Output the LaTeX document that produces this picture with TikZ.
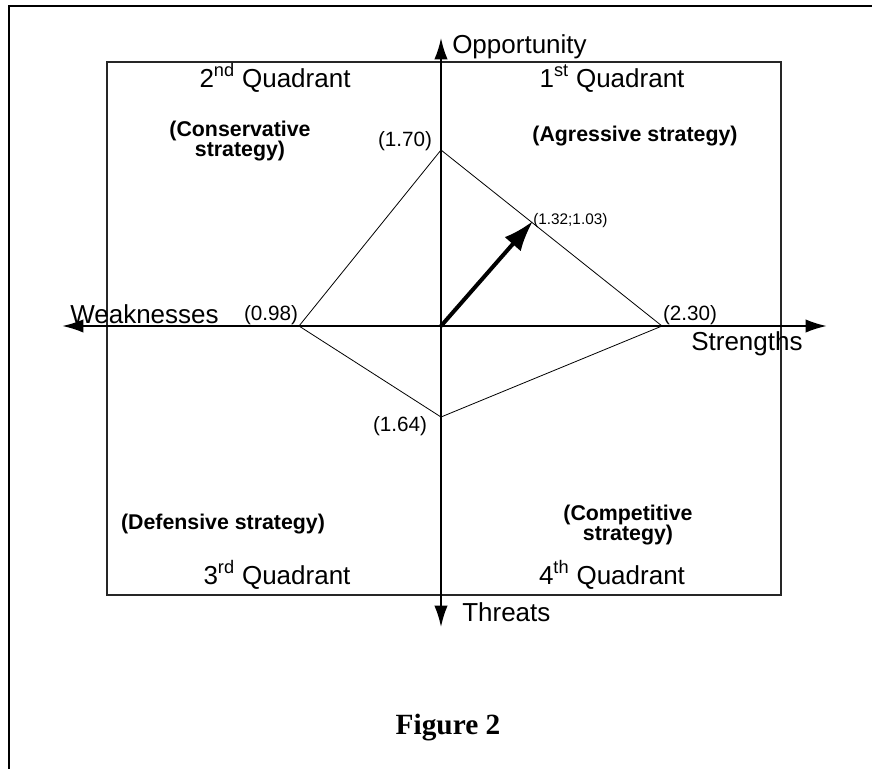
\documentclass[tikz,border=0pt]{standalone}
\usepackage{fontspec}
\setmainfont{Liberation Sans}
\newfontfamily\figfont{Liberation Serif}
\usetikzlibrary{arrows.meta,positioning}

\begin{document}
\begin{tikzpicture}[x=0.75pt,y=-0.75pt,
   lbl/.style={inner sep=0pt,font=\fontsize{19.5}{22}\selectfont},
   val/.style={inner sep=0pt,font=\fontsize{15.5}{18}\selectfont},
   strat/.style={inner sep=0pt,align=center,font=\bfseries\fontsize{16}{15}\selectfont},
   axis/.style={line width=1.4pt,{Latex[length=16pt,width=10pt]}-{Latex[length=16pt,width=10pt]}}]

   \useasboundingbox (0,0) rectangle (872,769);

   % outer frame
   \coordinate (f1) at (872,6);
   \coordinate (f2) at (9,6);
   \coordinate (f3) at (9,769);
   \draw[line width=1.6pt] (f1) -- (f2) -- (f3);

   % quadrant box
   \coordinate (q1) at (107,62);
   \coordinate (q2) at (781,595);
   \draw[line width=0.8pt,black!85] (q1) rectangle (q2);

   % axes
   \coordinate (W) at (62,326);
   \coordinate (S) at (827,326);
   \coordinate (O) at (441,38);
   \coordinate (T) at (441,627);
   \draw[axis,line width=1.6pt] (W) -- (S);
   \draw[axis] (T) -- (O);

   % diamond
   \coordinate (0) at (441,326);
   \coordinate (a) at (441,150);
   \coordinate (b) at (299,326);
   \coordinate (c) at (662,326);
   \coordinate (d) at (441,417);
   \draw[line width=0.6pt] (a) -- (c) -- (d) -- (b) -- cycle;

   % resultant
   \coordinate (r) at (533,221);
   \draw[line width=3pt,-{Latex[length=23pt,width=16pt]}] (0) -- (r);

   % axis names
   \node[lbl,anchor=base west] (opp) at (452,53) {Opportunity};
   \node[lbl,anchor=base west] (wk) at (70,323) {Weaknesses};
   \node[lbl,anchor=base west] (str) at (691,350) {Strengths};
   \node[lbl,anchor=base west] (thr) at (462,621) {Threats};

   % quadrants
   \node[lbl,anchor=base] (n2) at (275,87) {2\textsuperscript{nd} Quadrant};
   \node[lbl,anchor=base] (n1) at (612,87) {1\textsuperscript{st} Quadrant};
   \node[lbl,anchor=base] (n3) at (277,584) {3\textsuperscript{rd} Quadrant};
   \node[lbl,anchor=base] (n4) at (612,584) {4\textsuperscript{th} Quadrant};

   \node[strat] (cons) at (240,141) {(Conservative\\strategy)};
   \node[strat] (agr) at (635,136) {(Agressive strategy)};
   \node[strat] (def) at (223,524) {(Defensive strategy)};
   \node[strat] (comp) at (628,525) {(Competitive\\strategy)};

   % values
   \node[val] (v1) at (405,141) {(1.70)};
   \node[val] (v2) at (271,315) {(0.98)};
   \node[val] (v3) at (690,315) {(2.30)};
   \node[val] (v4) at (400,426) {(1.64)};
   \node[val,font=\fontsize{11.5}{13}\selectfont,anchor=west] (v5) at (r) {(1.32;1.03)};

   \node[inner sep=0pt,anchor=base,font=\figfont\bfseries\fontsize{22}{26}\selectfont] (fig) at (448,734) {Figure 2};

\end{tikzpicture}
\end{document}
